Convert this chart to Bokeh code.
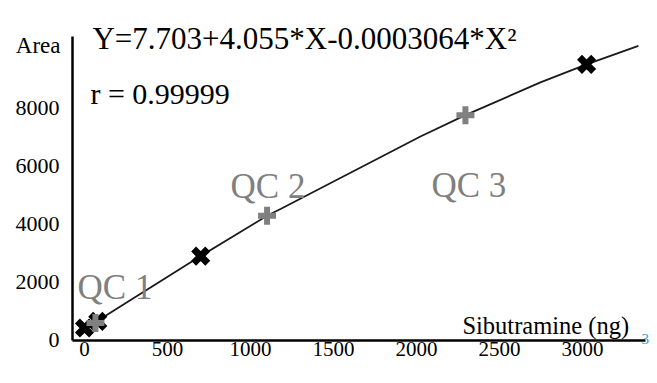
from bokeh.plotting import figure
from bokeh.models import Label, FixedTicker, Range1d
from bokeh.embed import file_html
from bokeh.resources import INLINE

# ---- data ----
std_x = [0, 80, 700, 3025]
std_y = [430, 660, 2910, 9520]
qc_x = [66, 1100, 2295]
qc_y = [600, 4300, 7770]
qc_labels = ["QC 1", "QC 2", "QC 3"]
curve_x = [0, 700, 1100, 1181, 2024, 2295, 2747, 3025, 3337]
curve_y = [400, 2910, 4300, 4535, 7035, 7770, 8900, 9520, 10160]
x_ticks = [0, 500, 1000, 1500, 2000, 2500, 3000]
y_ticks = [0, 2000, 4000, 6000, 8000]

FONT = "Liberation Serif"

p = figure(width=649, height=375, output_backend="svg", toolbar_location=None,
           x_range=Range1d(-506, 3404), y_range=Range1d(-1207, 11724),
           min_border_left=0, min_border_right=0, min_border_top=0,
           min_border_bottom=0)
p.outline_line_color = None
p.xgrid.visible = False
p.ygrid.visible = False
p.background_fill_color = "white"

xa = p.xaxis[0]
ya = p.yaxis[0]
xa.fixed_location = 0
xa.bounds = (-72, 3380)
ya.fixed_location = -72
ya.bounds = (0, 10480)
for ax in (xa, ya):
    ax.axis_line_color = "black"
    ax.axis_line_width = 2.5
    ax.major_tick_line_color = None
    ax.minor_tick_line_color = None
    ax.major_tick_out = 0
    ax.major_tick_in = 0
    ax.minor_tick_out = 0
    ax.minor_tick_in = 0
    ax.major_label_text_font = FONT
    ax.major_label_text_font_size = "22px"
    ax.major_label_text_color = "black"
xa.ticker = FixedTicker(ticks=x_ticks)
ya.ticker = FixedTicker(ticks=y_ticks)
xa.major_label_text_font_size = "21px"
xa.major_label_standoff = 2
ya.major_label_standoff = 13

p.line(curve_x, curve_y, line_color="#1a1a1a", line_width=1.8)
p.scatter(std_x, std_y, marker="x", size=20, line_width=7, line_color="black")
p.scatter(qc_x, qc_y, marker="cross", size=18, line_width=6, line_color="#808080")

qc_pos = [(-42, 1828), (880, 5310), (2090, 5345)]
for (lx, ly), t in zip(qc_pos, qc_labels):
    p.add_layout(Label(x=lx, y=ly, text=t, text_font=FONT, text_font_size="35px",
                       text_color="#808080", text_baseline="alphabetic"))

p.add_layout(Label(x=48, y=10414, text="Y=7.703+4.055*X-0.0003064*X²", text_font=FONT,
                   text_font_size="31px", text_color="black", text_baseline="alphabetic"))
p.add_layout(Label(x=36, y=8517, text="r = 0.99999", text_font=FONT,
                   text_font_size="30px", text_color="black", text_baseline="alphabetic"))
p.add_layout(Label(x=-72, x_offset=-12, y=10172, text="Area", text_font=FONT,
                   text_font_size="23px", text_color="black", text_align="right",
                   text_baseline="middle"))
p.add_layout(Label(x=2277, y=517, text="Sibutramine (ng)", text_font=FONT,
                   text_font_size="24.5px", text_color="black", text_baseline="alphabetic"))
p.add_layout(Label(x=3356, y=60, text="3", text_font=FONT,
                   text_font_size="15px", text_color="#2b9fdc", text_baseline="alphabetic"))

open("out.html", "w").write(file_html(p, INLINE))
